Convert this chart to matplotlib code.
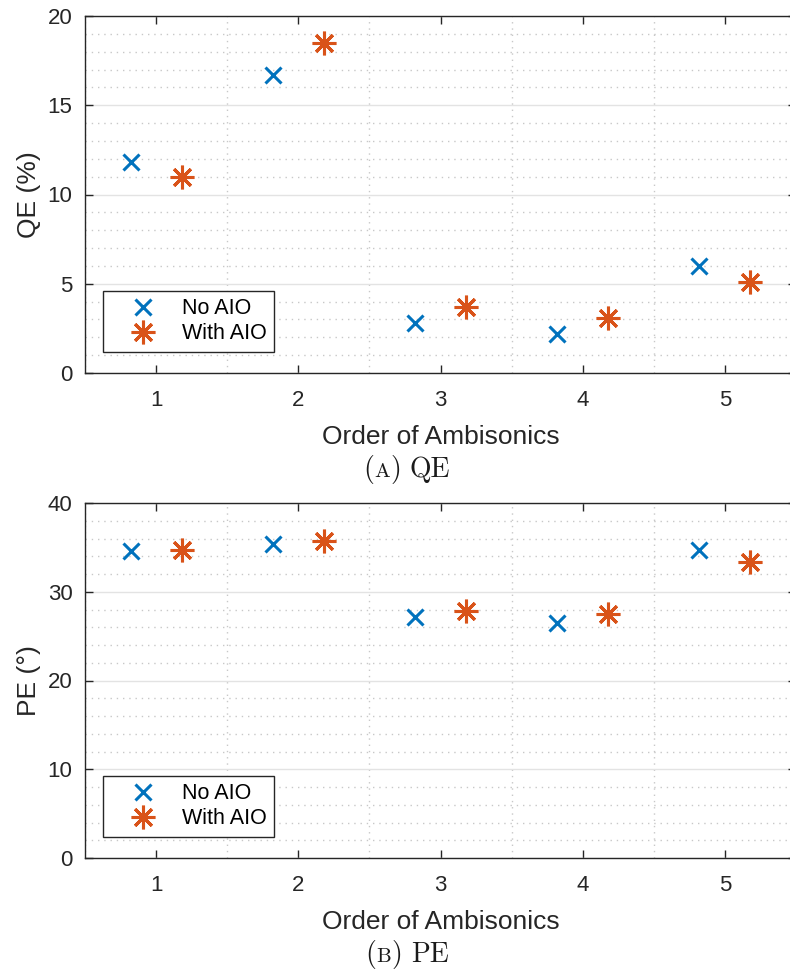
import matplotlib
matplotlib.use("Agg")
import matplotlib.pyplot as plt
from matplotlib.ticker import MultipleLocator
import numpy as np

# Data
orders = [1, 2, 3, 4, 5]
qe_no_aio = [11.8, 16.7, 2.8, 2.2, 6.0]
qe_with_aio = [11.0, 18.5, 3.7, 3.1, 5.1]
pe_no_aio = [34.6, 35.4, 27.2, 26.5, 34.7]
pe_with_aio = [34.7, 35.7, 27.8, 27.5, 33.3]
series_labels = ["No AIO", "With AIO"]
xlabel = "Order of Ambisonics"

BLUE = "#0072BD"
ORANGE = "#D95319"
SPINE = "#262626"

plt.rcParams["font.family"] = ["Liberation Sans", "DejaVu Sans"]

fig = plt.figure(figsize=(7.9, 9.75), dpi=100)
W, H = 790, 975


def px_axes(left, top, right, bottom):
    return fig.add_axes([left / W, 1 - bottom / H, (right - left) / W, (bottom - top) / H])


ax1 = px_axes(85, 16, 796, 373)
ax2 = px_axes(85, 503, 796, 858)

offset = 0.18


def style(ax, ymax, ymajor, yminor, ylabel):
    ax.set_xlim(0.5, 5.5)
    ax.set_ylim(0, ymax)
    ax.xaxis.set_major_locator(MultipleLocator(1))
    ax.xaxis.set_minor_locator(MultipleLocator(0.5))
    ax.yaxis.set_major_locator(MultipleLocator(ymajor))
    ax.yaxis.set_minor_locator(MultipleLocator(yminor))
    ax.grid(True, which="major", axis="y", color="#e3e3e3", lw=1.0, ls="-")
    ax.grid(True, which="minor", axis="both", color="#c8c8c8", lw=1.0,
            ls=(0, (1, 3.5)))
    ax.set_axisbelow(True)
    ax.tick_params(which="major", direction="in", length=6, width=1.0,
                   color=SPINE, top=True, right=True, labelsize=16,
                   labelcolor="#262626", pad=9)
    ax.tick_params(axis="x", which="major", pad=12)
    ax.tick_params(which="minor", length=0)
    for s in ax.spines.values():
        s.set_color(SPINE)
        s.set_linewidth(1.0)
    ax.set_xlabel(xlabel, fontsize=19, color="#262626", labelpad=10)
    ax.set_ylabel(ylabel, fontsize=19, color="#262626", labelpad=5)


def draw(ax, no_aio, with_aio):
    x = np.array(orders, dtype=float)
    ax.plot(x - offset, no_aio, ls="none", marker="x", ms=12, mew=2.2,
            color=BLUE, label=series_labels[0], clip_on=False)
    ax.plot(x + offset, with_aio, ls="none", marker=(8, 2, 0), ms=17, mew=2.2,
            color=ORANGE, label=series_labels[1], clip_on=False)
    leg = ax.legend(loc="lower left", bbox_to_anchor=(18 / 711, 21 / 355),
                    borderaxespad=0, fontsize=15.5, fancybox=False,
                    framealpha=1, edgecolor="#262626", handlelength=3.05,
                    handletextpad=0.25, borderpad=0.35, labelspacing=0.2)
    leg.get_frame().set_linewidth(1.0)


draw(ax1, qe_no_aio, qe_with_aio)
style(ax1, 20, 5, 1, "QE (%)")
draw(ax2, pe_no_aio, pe_with_aio)
style(ax2, 40, 10, 2, "PE (°)")

# Sub-figure captions with small-caps letters
fig.canvas.draw()
renderer = fig.canvas.get_renderer()


def caption(cx, cy, letter, name):
    parts = [("(", 20, 0), (letter, 15, 0), (")", 20, 0), (name, 20, 9)]
    texts, gaps = [], []
    for s, size, gap in parts:
        t = fig.text(0, cy / H, s, fontsize=size, family="cmr10",
                     ha="left", va="baseline", color="#1a1a1a")
        texts.append(t)
        gaps.append(gap)
    widths = [t.get_window_extent(renderer).width for t in texts]
    total = sum(widths) + sum(gaps)
    xpos = cx - total / 2
    for t, w, g in zip(texts, widths, gaps):
        xpos += g
        t.set_x(xpos / W)
        xpos += w


caption(407, 975 - 477, "A", "QE")
caption(407, 975 - 962, "B", "PE")

fig.savefig("out.png", dpi=100)
